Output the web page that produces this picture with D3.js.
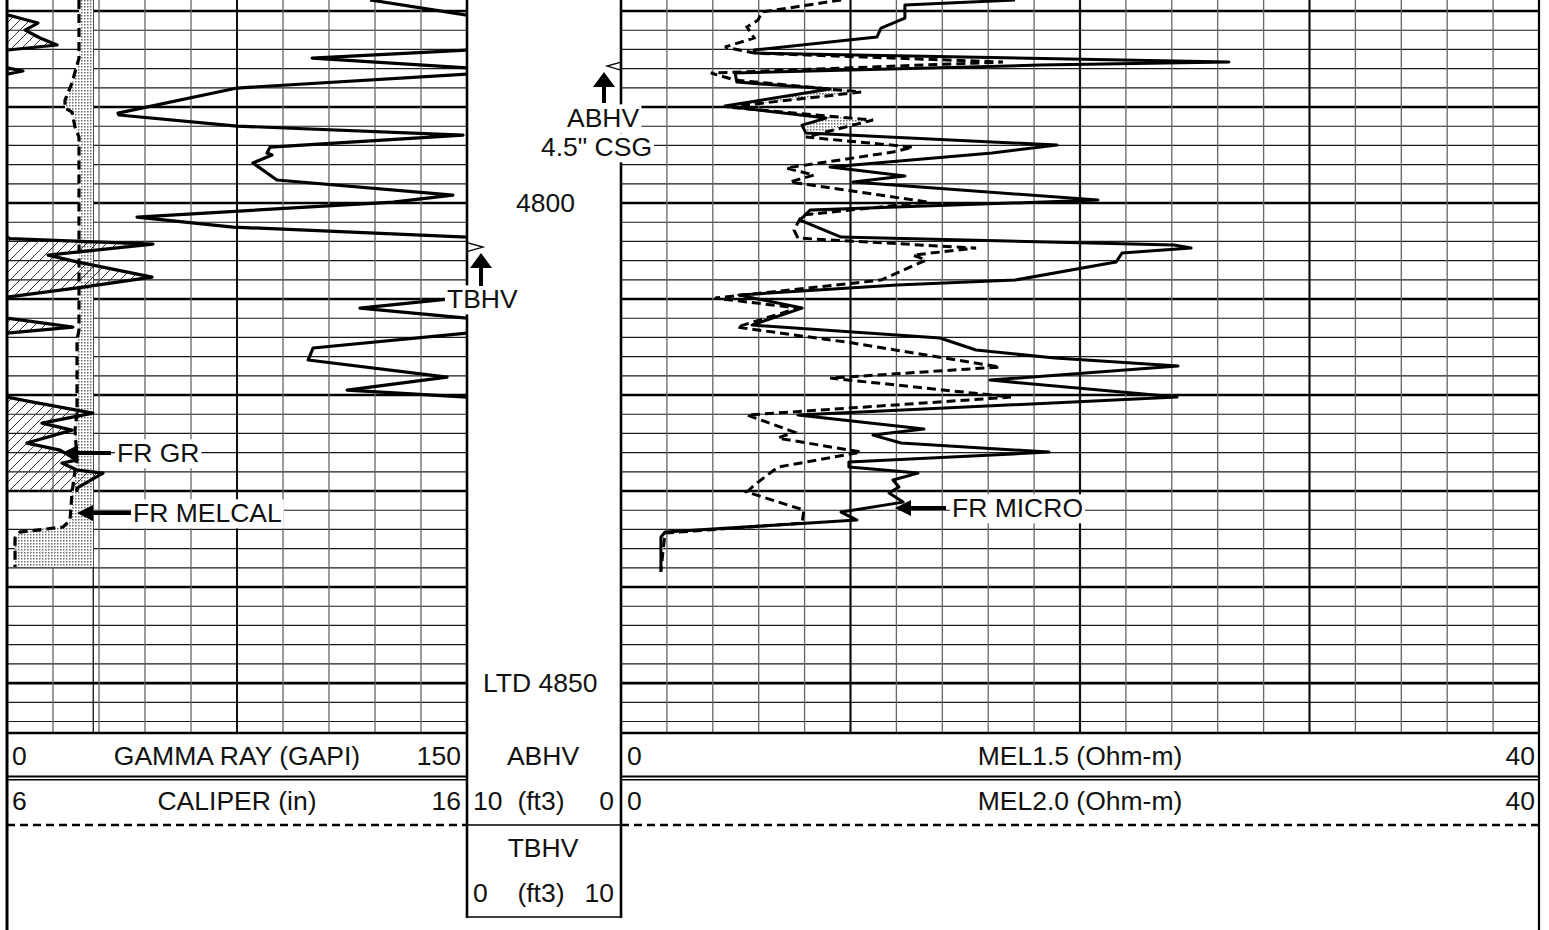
<!DOCTYPE html>
<html><head><meta charset="utf-8">
<script src="https://cdn.jsdelivr.net/npm/d3@7"></script>
<style>
html,body{margin:0;padding:0;background:#fff;}
svg{display:block;}
text{font-family:"Liberation Sans",Arial,Helvetica,sans-serif;font-size:26.5px;fill:#111;}
</style></head><body>
<svg id="c" width="1549" height="930"></svg>
<script>
// ---------------- DATA ----------------
const grDepth = [4778.85,4780.42,4780.47,4781.25,4781.98,4782.81,4783.54,4784.06,4784.90,4785.94,4786.25,4786.56,4788.02,4790.63,4790.83,4791.98,4792.92,4794.17,4794.79,4795.00,4795.83,4797.60,4799.17,4799.90,4801.46,4802.50,4803.54,4803.70,4804.27,4805.42,4806.15,4807.71,4808.75,4809.79,4810.94,4811.98,4812.92,4813.54,4815.10,4816.35,4818.13,4819.48,4820.21,4820.73,4821.88,4822.92,4823.65,4825.00,4825.73,4826.77,4827.08,4827.81,4828.13,4829.69,4830.10];
const grValue = [118.4,150.0,151.0,160.1,155.9,160.8,166.3,150.3,99.5,150.5,155.2,150.3,75.0,36.2,36.5,75.0,148.7,85.8,84.8,86.4,80.2,88.0,145.4,125.9,42.4,73.7,150.0,151.0,197.6,163.4,173.2,197.3,174.8,150.0,115.1,150.0,171.5,150.0,99.8,98.2,143.5,110.9,150.0,158.5,178.0,161.4,171.2,156.5,167.3,172.8,167.9,172.8,181.3,172.8,172.8];

const calDepth = [4778.85,4784.90,4786.35,4787.50,4789.27,4790.10,4790.52,4792.08,4793.13,4813.23,4814.27,4821.88,4823.65,4826.77,4827.81,4830.21,4833.02,4833.75,4834.27,4834.90,4837.92];
const calValue = [7.565,7.565,7.478,7.413,7.261,7.261,7.413,7.478,7.565,7.565,7.522,7.522,7.478,7.522,7.478,7.413,7.370,7.217,6.283,6.174,6.174];
const bitSize = 7.875;

const mel15Depth = [4778.85,4779.38,4780.73,4781.77,4782.71,4784.06,4784.38,4785.31,4785.63,4786.46,4787.40,4788.13,4789.90,4791.15,4791.88,4792.71,4793.96,4794.79,4796.25,4797.19,4797.81,4799.69,4800.73,4801.77,4803.54,4804.38,4804.69,4805.21,4806.15,4808.02,4808.54,4809.58,4810.94,4812.71,4814.06,4815.31,4816.15,4816.98,4818.44,4820.21,4822.08,4823.54,4824.17,4825.00,4825.94,4826.98,4827.50,4828.13,4828.85,4829.58,4830.21,4831.15,4832.19,4833.02,4834.27,4834.79,4838.44];
const mel15Value = [17.17,12.37,12.37,11.33,11.15,5.80,5.88,26.49,18.26,4.97,5.05,9.11,4.53,8.93,7.89,8.06,19.00,16.17,9.11,12.37,10.11,20.78,8.24,7.80,9.59,24.10,24.84,21.83,21.57,17.17,12.03,5.14,7.89,5.71,13.90,15.47,18.91,24.27,16.08,24.23,7.71,13.20,10.98,12.20,18.65,9.93,9.93,12.94,11.85,12.11,11.68,12.29,9.59,10.28,1.92,1.74,1.74];

const mel20Depth = [4778.85,4780.10,4780.94,4781.67,4782.81,4783.75,4784.38,4785.31,4786.46,4787.19,4788.44,4790.00,4791.35,4793.13,4794.17,4794.69,4796.35,4797.08,4797.81,4799.90,4801.25,4802.81,4803.65,4804.69,4805.42,4805.94,4808.02,4809.90,4810.94,4812.92,4814.58,4817.08,4818.23,4820.21,4822.08,4823.85,4824.48,4825.94,4827.50,4829.38,4830.10,4831.98,4833.33,4834.38,4838.23];
const mel20Value = [9.59,6.14,5.97,5.49,5.80,4.53,5.80,16.64,3.92,4.97,10.46,4.62,10.98,8.06,12.72,11.85,7.19,8.41,7.36,13.38,7.89,7.54,7.71,15.47,12.72,13.29,11.33,4.10,7.71,5.05,10.11,16.51,9.11,16.99,5.49,7.54,6.84,10.46,6.84,5.80,5.49,7.97,7.89,1.92,1.74];

const abhvPipDepths = [4785.73];
const tbhvPipDepths = [4804.58];

const depthRange = [4778.85, 4855.2];
const grRange = [0, 150];
const calRange = [6, 16];
const melRange = [0, 40];

const depthLabels = ["4800", "LTD 4850"];
const depthLabelDepths = [4800, 4850];

const annoTexts = ["FR GR", "FR MELCAL", "FR MICRO", "TBHV", "ABHV", "4.5\" CSG"];
const annoDepths = [4826.04, 4832.29, 4831.77, 4810.0, 4791.15, 4794.17];

// ---------------- LAYOUT ----------------
const T1 = [7, 467], T2 = [467, 621], T3 = [621, 1539];
const gridBottom = 733;
const svg = d3.select("#c");
const y = d3.scaleLinear().domain(depthRange).range([0, gridBottom]);
const xGR = d3.scaleLinear().domain(grRange).range(T1);
const xCal = d3.scaleLinear().domain(calRange).range(T1);
const xMel = d3.scaleLinear().domain(melRange).range(T3);

const zip = (ds, vs) => ds.map((d, i) => ({d, v: vs[i]}));
const gr = zip(grDepth, grValue), cal = zip(calDepth, calValue);
const m15 = zip(mel15Depth, mel15Value), m20 = zip(mel20Depth, mel20Value);

const defs = svg.append("defs");
const hp = defs.append("pattern").attr("id", "hatch").attr("patternUnits", "userSpaceOnUse").attr("width", 10).attr("height", 10);
hp.append("path").attr("d", "M-1,1 l2,-2 M0,10 l10,-10 M9,11 l2,-2").attr("stroke", "#333").attr("stroke-width", 1);
const sp = defs.append("pattern").attr("id", "stip").attr("patternUnits", "userSpaceOnUse").attr("width", 3).attr("height", 3);
sp.append("rect").attr("width", 3).attr("height", 3).attr("fill", "#fff");
sp.append("rect").attr("width", 1.5).attr("height", 1.5).attr("fill", "#6a6a6a");

defs.append("clipPath").attr("id", "clipT1").append("rect").attr("x", T1[0]).attr("y", 0).attr("width", T1[1] - T1[0]).attr("height", gridBottom);
defs.append("clipPath").attr("id", "clipT3").append("rect").attr("x", T3[0]).attr("y", 0).attr("width", T3[1] - T3[0]).attr("height", gridBottom);
defs.append("clipPath").attr("id", "clipSep").append("path")
  .attr("d", d3.area().y(p => y(p.d)).x0(p => xMel(p.v)).x1(T3[1] + 50)(m15));

// ---------------- GRID ----------------
const grid = svg.append("g");
const depthLines = d3.range(4780, 4855.01, 2);
[T1, T3].forEach(t => {
  depthLines.forEach(d => {
    const maj = Math.round(d) % 10 === 0;
    grid.append("line").attr("x1", t[0]).attr("x2", t[1]).attr("y1", y(d)).attr("y2", y(d))
      .attr("stroke", maj ? "#000" : "#1a1a1a").attr("stroke-width", maj ? 2.6 : 1.2);
  });
});
d3.range(15, 150, 15).forEach(v => {
  const maj = v === 75;
  grid.append("line").attr("x1", xGR(v)).attr("x2", xGR(v)).attr("y1", 0).attr("y2", gridBottom)
    .attr("stroke", maj ? "#111" : "#666").attr("stroke-width", maj ? 2 : 1.3);
});
d3.range(2, 40, 2).forEach(v => {
  const maj = v % 10 === 0;
  grid.append("line").attr("x1", xMel(v)).attr("x2", xMel(v)).attr("y1", 0).attr("y2", gridBottom)
    .attr("stroke", maj ? "#111" : "#666").attr("stroke-width", maj ? 2.2 : 1.3);
});
grid.append("line").attr("x1", xCal(bitSize)).attr("x2", xCal(bitSize)).attr("y1", 0).attr("y2", gridBottom)
  .attr("stroke", "#111").attr("stroke-width", 1.3);

// ---------------- TRACK 1 ----------------
const g1 = svg.append("g").attr("clip-path", "url(#clipT1)");
g1.append("path").attr("d", d3.area().y(p => y(p.d)).x0(p => xCal(p.v)).x1(xCal(bitSize))(cal))
  .attr("fill", "url(#stip)");
g1.append("path").attr("d", d3.area().y(p => y(p.d)).x0(xGR(0)).x1(p => xGR(p.v - 150))(gr))
  .attr("fill", "url(#hatch)");
const lineGR = d3.line().y(p => y(p.d)).x(p => xGR(p.v));
const lineGRb = d3.line().y(p => y(p.d)).x(p => xGR(p.v - 150));
g1.append("path").attr("d", lineGR(gr)).attr("fill", "none").attr("stroke", "#000").attr("stroke-width", 3.2).attr("stroke-linejoin", "round");
g1.append("path").attr("d", lineGRb(gr)).attr("fill", "none").attr("stroke", "#000").attr("stroke-width", 3.2).attr("stroke-linejoin", "round");
g1.append("path").attr("d", d3.line().y(p => y(p.d)).x(p => xCal(p.v))(cal)).attr("fill", "none")
  .attr("stroke", "#000").attr("stroke-width", 3.2).attr("stroke-dasharray", "9,5");

// ---------------- TRACK 3 ----------------
const g3 = svg.append("g").attr("clip-path", "url(#clipT3)");
g3.append("g").attr("clip-path", "url(#clipSep)").append("path")
  .attr("d", d3.area().y(p => y(p.d)).x0(T3[0] - 50).x1(p => xMel(p.v))(m20))
  .attr("fill", "url(#stip)");
g3.append("path").attr("d", d3.line().y(p => y(p.d)).x(p => xMel(p.v))(m15)).attr("fill", "none")
  .attr("stroke", "#000").attr("stroke-width", 3).attr("stroke-linejoin", "round");
g3.append("path").attr("d", d3.line().y(p => y(p.d)).x(p => xMel(p.v))(m20)).attr("fill", "none")
  .attr("stroke", "#000").attr("stroke-width", 3).attr("stroke-dasharray", "9,5");

// ---------------- BORDERS ----------------
const bd = svg.append("g");
bd.append("line").attr("x1", 7).attr("x2", 7).attr("y1", 0).attr("y2", 930).attr("stroke", "#000").attr("stroke-width", 3);
bd.append("line").attr("x1", T2[0]).attr("x2", T2[0]).attr("y1", 0).attr("y2", 918).attr("stroke", "#000").attr("stroke-width", 2.6);
bd.append("line").attr("x1", T2[1]).attr("x2", T2[1]).attr("y1", 0).attr("y2", 918).attr("stroke", "#000").attr("stroke-width", 2.6);
bd.append("line").attr("x1", T3[1]).attr("x2", T3[1]).attr("y1", 0).attr("y2", 930).attr("stroke", "#000").attr("stroke-width", 2.2);
[T1, T3].forEach(t => {
  bd.append("line").attr("x1", t[0]).attr("x2", t[1]).attr("y1", gridBottom).attr("y2", gridBottom).attr("stroke", "#000").attr("stroke-width", 2.6);
  bd.append("line").attr("x1", t[0]).attr("x2", t[1]).attr("y1", 776.5).attr("y2", 776.5).attr("stroke", "#000").attr("stroke-width", 2);
  bd.append("line").attr("x1", t[0]).attr("x2", t[1]).attr("y1", 779.8).attr("y2", 779.8).attr("stroke", "#000").attr("stroke-width", 1.5);
  bd.append("line").attr("x1", t[0]).attr("x2", t[1]).attr("y1", 825).attr("y2", 825).attr("stroke", "#000").attr("stroke-width", 2.4).attr("stroke-dasharray", "8,5");
});
bd.append("line").attr("x1", T2[0]).attr("x2", T2[1]).attr("y1", 825).attr("y2", 825).attr("stroke", "#000").attr("stroke-width", 1.6);
bd.append("line").attr("x1", T2[0]).attr("x2", T2[1]).attr("y1", 917).attr("y2", 917).attr("stroke", "#000").attr("stroke-width", 1.6);

// ---------------- PIPS ----------------
abhvPipDepths.forEach(d => {
  const yy = y(d);
  svg.append("path").attr("d", `M${T2[1]},${yy - 4} L${T2[1] - 14},${yy} L${T2[1]},${yy + 4}`).attr("fill", "none").attr("stroke", "#000").attr("stroke-width", 1.3);
});
tbhvPipDepths.forEach(d => {
  const yy = y(d);
  svg.append("path").attr("d", `M${T2[0]},${yy - 4.5} L${T2[0] + 16},${yy} L${T2[0]},${yy + 4.5}`).attr("fill", "none").attr("stroke", "#000").attr("stroke-width", 1.3);
});

// ---------------- LABELS ----------------
function boxed(txt, x, yc) {
  const g = svg.append("g");
  const r = g.append("rect").attr("fill", "#fff");
  const t = g.append("text").attr("x", x).attr("y", yc).attr("dy", "0.35em").text(txt);
  const b = t.node().getBBox();
  r.attr("x", b.x - 2).attr("y", b.y + 1).attr("width", b.width + 4).attr("height", b.height - 1);
  return g;
}
const annoX = [117, 133, 952, 447, 567, 541];
annoTexts.forEach((t, i) => boxed(t, annoX[i], y(annoDepths[i])));
const depthLabelX = [516, 483];
depthLabels.forEach((t, i) => boxed(t, depthLabelX[i], y(depthLabelDepths[i])));

function leftArrow(tip, tail, yc) {
  svg.append("path").attr("d", `M${tip},${yc} L${tip + 16},${yc - 8} L${tip + 16},${yc - 2} L${tail},${yc - 2} L${tail},${yc + 2} L${tip + 16},${yc + 2} L${tip + 16},${yc + 8} Z`).attr("fill", "#000");
}
function upArrow(x, tip, tail) {
  svg.append("path").attr("d", `M${x},${tip} L${x + 11},${tip + 15} L${x + 2},${tip + 15} L${x + 2},${tail} L${x - 2},${tail} L${x - 2},${tip + 15} L${x - 11},${tip + 15} Z`).attr("fill", "#000");
}
leftArrow(62, 111, y(annoDepths[0]));
leftArrow(77, 131, y(annoDepths[1]));
leftArrow(895, 946, y(annoDepths[2]));
upArrow(481, 253, 286);
upArrow(604, 72, 103);

// ---------------- HEADER ----------------
const hdr = svg.append("g");
function ht(txt, x, yc, anchor) {
  hdr.append("text").attr("x", x).attr("y", yc).attr("dy", "0.35em").attr("text-anchor", anchor).text(txt);
}
const r1 = 756, r2 = 801, r3 = 848, r4 = 893;
ht(String(grRange[0]), 12, r1, "start"); ht("GAMMA RAY (GAPI)", 237, r1, "middle"); ht(String(grRange[1]), 461, r1, "end");
ht(String(calRange[0]), 12, r2, "start"); ht("CALIPER (in)", 237, r2, "middle"); ht(String(calRange[1]), 461, r2, "end");
ht("ABHV", 543, r1, "middle");
ht("10", 473, r2, "start"); ht("(ft3)", 541, r2, "middle"); ht("0", 614, r2, "end");
ht("TBHV", 543, r3, "middle");
ht("0", 473, r4, "start"); ht("(ft3)", 541, r4, "middle"); ht("10", 614, r4, "end");
ht(String(melRange[0]), 627, r1, "start"); ht("MEL1.5 (Ohm-m)", 1080, r1, "middle"); ht(String(melRange[1]), 1535, r1, "end");
ht(String(melRange[0]), 627, r2, "start"); ht("MEL2.0 (Ohm-m)", 1080, r2, "middle"); ht(String(melRange[1]), 1535, r2, "end");
</script>
</body></html>
